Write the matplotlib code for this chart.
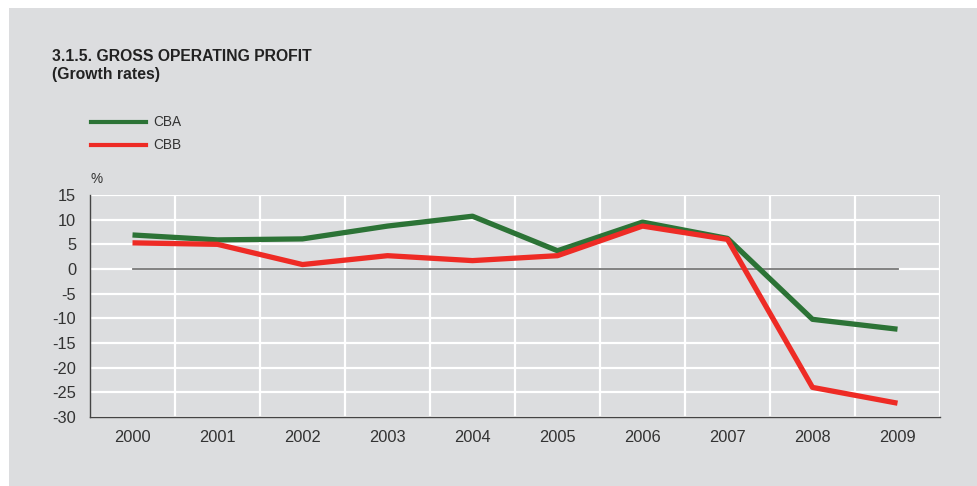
import matplotlib.pyplot as plt
from matplotlib.patches import Rectangle
from matplotlib.ticker import FixedLocator

plt.rcParams['font.family'] = ['Liberation Sans', 'DejaVu Sans']
plt.rcParams['axes.unicode_minus'] = False

years = ['2000', '2001', '2002', '2003', '2004', '2005', '2006', '2007', '2008', '2009']
cba = [6.9, 5.9, 6.1, 8.7, 10.7, 3.7, 9.5, 6.2, -10.2, -12.2]
cbb = [5.3, 5.0, 0.9, 2.7, 1.7, 2.7, 8.7, 6.0, -24.0, -27.2]

bg = '#dcdddf'
green = '#2c7336'
red = '#ee2b25'
txt = '#333333'

W, H = 978, 486
fig = plt.figure(figsize=(W / 100, H / 100), dpi=100)
fig.patch.set_facecolor('white')
fig.patches.append(Rectangle((9 / W, 0), 1 - 9 / W, 1 - 8 / H, transform=fig.transFigure,
                             facecolor=bg, edgecolor='none', zorder=-5))

ax = fig.add_axes([90 / W, 1 - 417 / H, 850 / W, 222 / H])
ax.set_zorder(2)
ax.set_facecolor(bg)
x = list(range(len(years)))

ax.set_xlim(-0.5, 9.5)
ax.set_ylim(-30, 15)
ax.set_yticks(range(-30, 16, 5))
ax.set_xticks(x)
ax.set_xticklabels(years)
ax.xaxis.set_minor_locator(FixedLocator([i + 0.5 for i in x]))
ax.grid(axis='y', which='major', color='white', lw=1.6, zorder=1)
ax.grid(axis='x', which='minor', color='white', lw=1.6, zorder=1)
ax.tick_params(which='both', length=0)
ax.tick_params(axis='y', labelsize=11.8, labelcolor=txt, pad=10)
ax.tick_params(axis='x', labelsize=11.8, labelcolor=txt, pad=9)
for s in ['top', 'right']:
    ax.spines[s].set_visible(False)
for s in ['left', 'bottom']:
    ax.spines[s].set_color('#444444')
    ax.spines[s].set_linewidth(1.0)
ax.set_axisbelow(True)

ax.plot([x[0], x[-1]], [0, 0], color='#777777', lw=1.3, zorder=2)
ax.plot(x, cba, color=green, lw=3.8, zorder=3, solid_capstyle='butt')
ax.plot(x, cbb, color=red, lw=3.8, zorder=4, solid_capstyle='butt')

fig.text(52 / W, 1 - 61 / H, '3.1.5. GROSS OPERATING PROFIT', fontsize=11.3,
         fontweight='bold', color='#222222', va='baseline')
fig.text(52 / W, 1 - 79 / H, '(Growth rates)', fontsize=11.3,
         fontweight='bold', color='#222222', va='baseline')

for yy, lab, col in [(122, 'CBA', green), (145, 'CBB', red)]:
    fig.add_artist(plt.Line2D([91 / W, 146 / W], [1 - yy / H, 1 - yy / H], color=col, lw=3.0))
    fig.text(153 / W, 1 - yy / H, lab, fontsize=9.8, color=txt, va='center')

fig.text(91 / W, 1 - 179 / H, '%', fontsize=9.8, color=txt, va='center')

fig.savefig('out.png', dpi=100, facecolor=fig.get_facecolor())
